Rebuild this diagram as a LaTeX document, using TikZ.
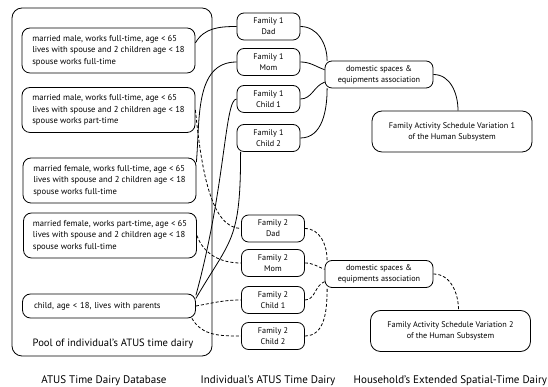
\documentclass[tikz,border=0pt]{standalone}
\usepackage{fontspec}
\setmainfont{PT Sans}
\tikzset{
  profile/.style={draw, rounded corners=8pt, minimum width=173pt, minimum height=45pt,
    align=left, inner sep=4pt, font=\fontsize{8.6}{11.5}\selectfont},
  member/.style={draw, rounded corners=7pt, minimum width=63pt, minimum height=27pt,
    align=center, inner sep=1pt, font=\fontsize{8.2}{11}\selectfont},
  assoc/.style={member, minimum width=108pt},
  schedule/.style={member, rounded corners=10pt, minimum width=160pt, minimum height=41pt},
  caption/.style={font=\fontsize{11}{13}\selectfont},
  dashtie/.style={dash pattern=on 3pt off 2pt}
}
\begin{document}
\begin{tikzpicture}[x=1pt,y=1pt,line width=0.8pt]
\useasboundingbox (0,0) rectangle (548,387);
% pool of diaries
\node[draw, rounded corners=10pt, minimum width=200pt, minimum height=348pt] (pool) at (112,205) {};
\node[font=\fontsize{10.6}{12}\selectfont] (poollabel) at (113,43) {Pool of individual’s ATUS time dairy};
\node[profile] (b1) at (108.5,336.5) {married male, works full-time, age < 65\\lives with spouse and 2 children age < 18\\spouse works full-time};
\node[profile] (b2) at (108.5,277) {married male, works full-time, age < 65\\lives with spouse and 2 children age < 18\\spouse works part-time};
\node[profile] (b3) at (109.5,206.5) {married female, works full-time, age < 65\\lives with spouse and 2 children age < 18\\spouse works full-time};
\node[profile] (b4) at (110,151.5) {married female, works part-time, age < 65\\lives with spouse and 2 children age < 18\\spouse works full-time};
\node[profile, minimum height=24pt, text width=150pt] (b5) at (109,81) {child, age < 18, lives with parents};
% family members
\node[member] (f1dad) at (268.5,360.5) {Family 1\\Dad};
\node[member] (f1mom) at (268.5,325) {Family 1\\Mom};
\node[member] (f1c1) at (268.5,288) {Family 1\\Child 1};
\node[member] (f1c2) at (268.5,249) {Family 1\\Child 2};
\node[member] (f2dad) at (273,158.5) {Family 2\\Dad};
\node[member] (f2mom) at (273,124) {Family 2\\Mom};
\node[member] (f2c1) at (273,87) {Family 2\\Child 1};
\node[member] (f2c2) at (273,51) {Family 2\\Child 2};
% associations and schedules
\node[assoc] (a1) at (379,312.5) {domestic spaces \&\\equipments association};
\node[assoc] (a2) at (379,113) {domestic spaces \&\\equipments association};
\node[schedule] (v1) at (452,255.5) {Family Activity Schedule Variation 1\\of the Human Subsystem};
\node[schedule] (v2) at (450.5,56) {Family Activity Schedule Variation 2\\of the Human Subsystem};
% captions
\node[caption] (dbcap) at (104,6) {ATUS Time Dairy Database};
\node[caption] (indcap) at (268,6) {Individual’s ATUS Time Dairy};
\node[caption, anchor=west] (hhcap) at (350,6) {Household’s Extended Spatial-Time Dairy};
% family 1
\draw (b1.5) to[out=60,in=180] (f1dad.west);
\draw (f1mom.west) to[out=180,in=85] (b3.12);
\draw (f1c1.west) .. controls +(-12,0) and +(30,110) .. (b5.7);
\draw ([xshift=4pt]f1c2.south west) .. controls +(0,-90) and +(35,60) .. (b5.5);
\draw (f1dad.east) to[out=0,in=90] (a1.165);
\draw (f1mom.east) to[out=0,in=160] (a1.175);
\draw (f1c1.east) to[out=0,in=200] (a1.188);
\draw (f1c2.east) to[out=0,in=-90] (a1.195);
\draw (a1.east) to[out=0,in=90] ([xshift=6pt]v1.north);
% family 2
\draw[dashtie] (b2.east) .. controls +(6,-60) and +(-30,0) .. (f2dad.west);
\draw[dashtie] (b4.east) to[out=-70,in=180] (f2mom.west);
\draw[dashtie] (b5.east) to[out=10,in=180] (f2c1.west);
\draw[dashtie] ([xshift=-4pt]b5.south east) to[out=-60,in=180] (f2c2.west);
\draw[dashtie] (f2dad.east) to[out=0,in=90] (a2.165);
\draw[dashtie] (f2mom.east) to[out=0,in=160] (a2.175);
\draw[dashtie] (f2c1.east) to[out=0,in=200] (a2.188);
\draw[dashtie] (f2c2.east) to[out=0,in=-90] (a2.195);
\draw[dashtie] (a2.east) to[out=0,in=90] ([xshift=8pt]v2.north);
\end{tikzpicture}
\end{document}
